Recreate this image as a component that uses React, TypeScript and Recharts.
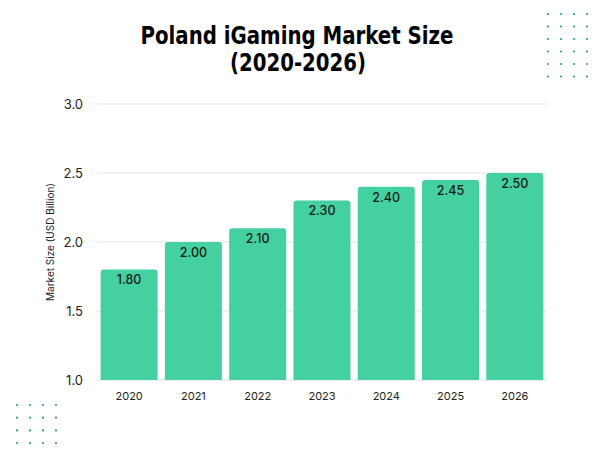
import { BarChart, Bar, XAxis, YAxis, CartesianGrid, LabelList } from 'recharts';

const years = ['2020', '2021', '2022', '2023', '2024', '2025', '2026'];
const marketSize = [1.8, 2.0, 2.1, 2.3, 2.4, 2.45, 2.5];
const yTicks = [1.0, 1.5, 2.0, 2.5, 3.0];

const data = years.map((year, i) => ({ year, value: marketSize[i] }));

const FONT = 'Inter, "Noto Sans", sans-serif';
const TITLE_FONT = '"DejaVu Sans Condensed", "DejaVu Sans", sans-serif';
const DOT = '#2a9d8f';

// decorative dot grids in the corners
function Dots({ x, y, cols, rows, dx, dy }: { x: number; y: number; cols: number; rows: number; dx: number; dy: number }) {
  const out = [];
  for (let r = 0; r < rows; r++) {
    for (let c = 0; c < cols; c++) {
      out.push(<circle key={`${r}-${c}`} cx={x + c * dx} cy={y + r * dy} r={1.1} fill={DOT} />);
    }
  }
  return <g>{out}</g>;
}

export default function App() {
  return (
    <div style={{ position: 'fixed', top: 0, left: 0, width: 600, height: 450, background: '#fff' }}>
      <BarChart
        width={600}
        height={450}
        data={data}
        margin={{ top: 104, right: 53, bottom: 0, left: 0 }}
        barCategoryGap={3.6}
      >
        <CartesianGrid vertical={false} stroke="#e3e3e3" />
        <XAxis
          dataKey="year"
          axisLine={false}
          tickLine={false}
          height={70}
          tick={{ fill: '#222', fontSize: 11, fontFamily: FONT }}
          tickMargin={6}
        />
        <YAxis
          type="number"
          domain={[1, 3]}
          ticks={yTicks}
          allowDataOverflow
          axisLine={false}
          tickLine={false}
          width={97}
          tickFormatter={(v: number) => v.toFixed(1)}
          tick={{ fill: '#222', fontSize: 13, fontFamily: FONT }}
          tickMargin={8}
          label={{
            value: 'Market Size (USD Billion)',
            angle: -90,
            position: 'insideLeft',
            offset: 50,
            style: { textAnchor: 'middle', fill: '#222', fontSize: 10, fontFamily: FONT },
          }}
        />
        <Bar dataKey="value" fill="#44d09f" radius={[3, 3, 0, 0]} isAnimationActive={false}>
          <LabelList
            dataKey="value"
            position="insideTop"
            offset={6}
            formatter={(v: number) => v.toFixed(2)}
            style={{ fill: '#1a1a1a', fontSize: 12.5, fontFamily: FONT, fontWeight: 500 }}
          />
        </Bar>
      </BarChart>
      <svg width={600} height={450} style={{ position: 'absolute', top: 0, left: 0, pointerEvents: 'none' }}>
        <text
          x={297}
          y={44}
          textAnchor="middle"
          textLength={313}
          lengthAdjust="spacingAndGlyphs"
          style={{ fontFamily: TITLE_FONT, fontWeight: 'bold', fontSize: 24, fill: '#000' }}
        >
          Poland iGaming Market Size
        </text>
        <text
          x={298}
          y={71}
          textAnchor="middle"
          textLength={136}
          lengthAdjust="spacingAndGlyphs"
          style={{ fontFamily: TITLE_FONT, fontWeight: 'bold', fontSize: 24, fill: '#000' }}
        >
          (2020-2026)
        </text>
        <Dots x={548} y={14} cols={4} rows={6} dx={13} dy={12.5} />
        <Dots x={17} y={405} cols={4} rows={4} dx={13} dy={12.7} />
      </svg>
    </div>
  );
}
